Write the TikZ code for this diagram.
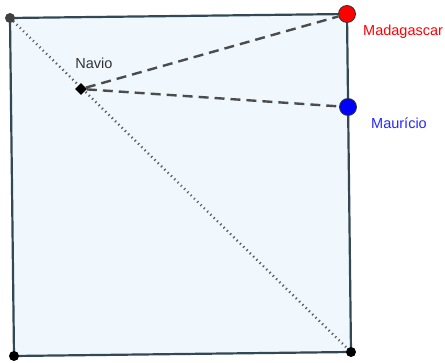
\documentclass[tikz,border=0pt]{standalone}
\usepackage{fontspec}
\setmainfont{Liberation Sans}
\usetikzlibrary{arrows.meta,calc,shapes.geometric}
\definecolor{edgegray}{RGB}{50,72,84}
\definecolor{facefill}{RGB}{240,248,254}
\tikzset{%
        x = 1pt,
        y = -1pt,
        every node/.style = {font=\fontsize{14.5}{17}\selectfont}
}
\tikzstyle{corner}=[
    circle,
    fill = black,
    inner sep = 0pt,
    minimum size = 10pt
]
\tikzstyle{place}=[
    circle,
    draw = black!80,
    line width = 0.8pt,
    inner sep = 0pt,
    minimum size = 17pt
]
\tikzstyle{ship}=[
    diamond,
    fill = black,
    inner sep = 0pt,
    minimum size = 12pt
]
\tikzstyle{route}=[
    draw = black!70,
    line width = 2.4pt,
    dash pattern = on 10pt off 6pt
]

\begin{document}
\begin{tikzpicture}
        \useasboundingbox (0,0) rectangle (445,363);
        \coordinate (tl) at (10,18);
        \coordinate (tr) at (347,14);
        \coordinate (br) at (351,352);
        \coordinate (bl) at (14,356);
        \fill[facefill] (tl) -- (tr) -- (br) -- (bl) -- cycle;
        \draw[black!65, line width = 2.4pt, dash pattern = on 1.2pt off 3.4pt]
            (tl) -- (br);
        \draw[edgegray, line width = 2.2pt] (tl) -- (tr) -- (br) -- (bl) -- cycle;
        \node[corner, fill = black!75] (a) at (tl) {};
        \node[corner] (c) at (br) {};
        \node[corner] (d) at (bl) {};
        \node[ship] (nav) at (81,89) {};
        \node[place, fill = red] (mad) at (tr) {};
        \node[place, fill = blue] (mau) at (348,107) {};
        \path
        (nav) edge[route] (mad)
        (nav) edge[route] (mau)
        ;
        \node[anchor = base, text = black!80] at (94,69) {Navio};
        \node[anchor = base west, inner sep = 0pt, text = red] at (363,35.5) {Madagascar};
        \node[anchor = base west, inner sep = 0pt, text = blue!85!white] at (371,129) {Maurício};
    \end{tikzpicture}
\end{document}
